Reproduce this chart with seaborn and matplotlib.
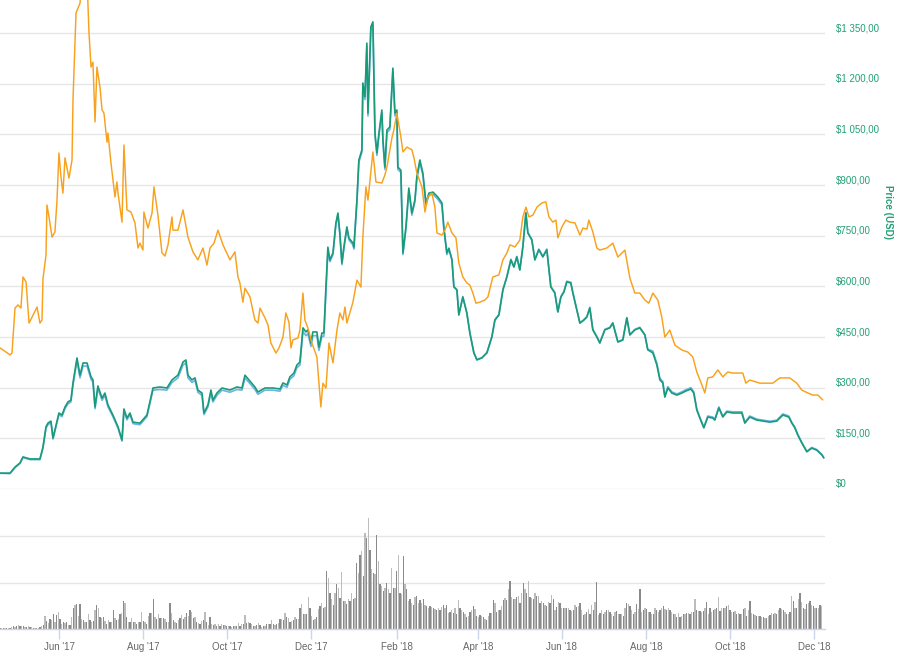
import numpy as np
import pandas as pd
import matplotlib
matplotlib.use("Agg")
import matplotlib.pyplot as plt
import matplotlib.dates as mdates
from matplotlib.ticker import FuncFormatter
import seaborn as sns

START = pd.Timestamp("2017-04-19")
END = START + pd.Timedelta(days=599.1)

# price in USD (green) and market cap in billions USD (blue), at day offsets from START
usd_days = [
    0.0, 7.3, 10.9, 14.5, 16.7, 21.8, 29.0, 31.2, 33.4, 34.8,
    37.0, 38.5, 40.7, 42.8, 45.0, 47.2, 49.4, 51.5, 53.0, 55.9,
    58.1, 60.3, 63.2, 66.1, 67.5, 69.0, 71.1, 74.1, 76.2, 78.4,
    82.0, 85.7, 88.6, 90.0, 92.2, 94.4, 96.6, 101.6, 106.7, 111.1,
    116.2, 121.2, 124.9, 129.2, 132.9, 135.0, 136.5, 139.4, 141.6, 143.7,
    146.7, 148.1, 151.0, 153.2, 154.6, 157.5, 161.2, 167.0, 172.1, 175.7,
    177.9, 180.8, 185.1, 187.3, 192.4, 198.2, 203.3, 205.5, 208.4, 210.5,
    213.4, 215.6, 217.8, 220.0, 222.2, 223.6, 225.8, 227.2, 230.1, 231.6,
    233.8, 235.2, 236.7, 238.1, 239.6, 241.8, 243.9, 245.4, 246.8, 248.3,
    249.7, 251.9, 253.4, 256.3, 257.0, 259.2, 260.6, 262.8, 263.5, 265.0,
    266.4, 267.2, 269.3, 270.8, 272.3, 273.7, 275.2, 277.3, 278.1, 279.5,
    281.0, 283.1, 285.3, 286.8, 288.2, 288.9, 291.1, 292.6, 294.8, 296.9,
    299.1, 301.3, 302.7, 304.9, 307.1, 309.3, 311.5, 314.4, 318.0, 320.9,
    322.3, 324.5, 326.0, 328.2, 329.6, 331.8, 333.2, 336.1, 339.0, 341.2,
    344.1, 346.3, 349.9, 353.6, 357.2, 359.4, 362.3, 365.2, 368.1, 371.0,
    373.2, 375.3, 377.5, 379.7, 381.9, 383.3, 386.2, 388.4, 391.3, 394.2,
    397.1, 400.0, 402.9, 405.1, 407.3, 409.5, 411.6, 414.5, 416.0, 418.9,
    421.1, 424.0, 426.2, 428.3, 430.5, 433.4, 435.6, 439.2, 442.9, 445.0,
    448.7, 452.3, 455.2, 457.4, 461.0, 464.6, 468.3, 470.4, 474.1, 477.0,
    479.2, 481.3, 482.8, 485.0, 487.9, 491.5, 495.1, 498.0, 501.7, 503.8,
    506.0, 508.2, 511.1, 514.0, 517.6, 519.1, 522.0, 524.9, 527.8, 532.2,
    538.7, 540.9, 544.5, 549.6, 559.0, 564.1, 568.5, 572.8, 575.0, 577.2,
    579.3, 582.3, 585.9, 589.5, 593.1, 596.8, 598.2,
]
usd_price = [
    47, 47, 65, 77, 95, 89, 89, 124, 184, 195,
    201, 151, 189, 225, 219, 243, 258, 263, 314, 388,
    337, 373, 373, 332, 323, 243, 305, 269, 284, 249,
    219, 184, 145, 237, 210, 225, 198, 195, 219, 299,
    302, 299, 323, 337, 376, 382, 337, 323, 329, 293,
    284, 225, 249, 293, 263, 284, 299, 293, 302, 299,
    337, 323, 302, 287, 299, 299, 296, 314, 308, 332,
    343, 367, 376, 477, 465, 471, 432, 465, 465, 420,
    462, 462, 598, 716, 678, 699, 787, 817, 758, 669,
    716, 776, 743, 728, 716, 856, 974, 1004, 1202, 1161,
    1320, 1113, 1368, 1383, 1054, 995, 1054, 1122, 1033, 953,
    1063, 1072, 1246, 1113, 1122, 953, 944, 699, 776, 891,
    817, 856, 924, 974, 935, 847, 876, 879, 864, 847,
    776, 699, 713, 678, 598, 589, 515, 568, 521, 462,
    403, 382, 388, 403, 450, 500, 515, 589, 628, 678,
    657, 687, 648, 716, 817, 758, 737, 678, 708, 687,
    708, 598, 580, 524, 568, 583, 613, 610, 580, 530,
    491, 500, 509, 536, 471, 450, 432, 471, 477, 491,
    435, 441, 506, 456, 471, 477, 456, 412, 403, 367,
    323, 314, 272, 299, 284, 278, 284, 290, 296, 284,
    234, 210, 181, 213, 210, 204, 240, 213, 228, 225,
    225, 195, 213, 204, 198, 201, 219, 213, 195, 181,
    160, 136, 110, 121, 115, 101, 92,
]
mcap_bn = [
    4.5, 4.4, 6.1, 7.3, 9.0, 8.4, 8.4, 11.7, 17.4, 18.4,
    19.0, 14.3, 17.9, 21.3, 20.7, 23.0, 24.4, 24.9, 29.7, 36.7,
    31.8, 35.2, 35.2, 31.4, 30.5, 23.0, 28.8, 25.4, 26.8, 23.5,
    20.7, 17.4, 13.7, 22.4, 19.8, 21.3, 18.7, 18.4, 20.7, 28.3,
    28.5, 28.3, 30.5, 31.8, 35.5, 36.1, 31.8, 30.5, 31.1, 27.7,
    26.8, 21.3, 23.5, 27.7, 24.9, 26.8, 28.3, 27.7, 28.5, 28.3,
    31.8, 30.5, 28.5, 27.1, 28.3, 28.3, 28.0, 29.7, 29.1, 31.4,
    32.4, 34.7, 35.5, 45.1, 43.9, 44.5, 40.8, 43.9, 43.9, 39.7,
    43.7, 43.7, 56.5, 67.7, 65.1, 67.1, 75.6, 78.4, 72.8, 64.2,
    68.7, 74.5, 71.3, 69.9, 68.7, 82.2, 93.5, 96.4, 115.4, 111.5,
    126.7, 106.8, 131.3, 132.8, 101.2, 95.5, 101.2, 107.7, 99.2, 91.5,
    102.0, 102.9, 119.6, 106.8, 107.7, 91.5, 90.6, 67.1, 74.5, 85.5,
    78.4, 82.2, 88.7, 93.5, 89.8, 81.3, 84.1, 84.4, 82.9, 81.3,
    74.5, 67.1, 68.4, 65.8, 58.0, 57.1, 50.0, 55.1, 50.5, 44.8,
    39.1, 37.1, 37.6, 39.1, 43.7, 48.5, 50.0, 57.1, 60.9, 65.8,
    63.7, 66.6, 62.9, 69.5, 79.2, 73.5, 71.5, 65.8, 68.7, 66.6,
    68.7, 58.0, 56.3, 50.8, 55.1, 56.6, 59.5, 59.2, 56.3, 51.4,
    47.6, 48.5, 49.4, 52.0, 45.7, 43.7, 41.9, 45.7, 46.3, 47.6,
    42.2, 42.8, 49.1, 44.2, 45.7, 46.3, 44.2, 40.0, 39.5, 36.0,
    31.7, 30.8, 26.7, 29.3, 27.8, 27.2, 27.8, 28.4, 29.0, 27.8,
    22.9, 20.6, 17.7, 20.9, 20.6, 20.0, 23.5, 20.9, 22.3, 22.1,
    22.1, 19.1, 20.9, 20.0, 19.4, 19.7, 21.5, 20.9, 19.1, 17.7,
    15.7, 13.3, 10.8, 11.9, 11.3, 9.9, 9.0,
]

# price in BTC (orange)
btc_days = [
    0.0, 7.3, 8.7, 10.9, 13.1, 15.2, 16.7, 18.9, 21.1, 24.0,
    26.9, 29.0, 30.5, 31.2, 33.4, 34.1, 35.6, 37.8, 39.9, 41.4,
    42.8, 44.3, 45.7, 47.2, 50.1, 52.3, 53.0, 55.2, 58.1, 60.3,
    63.2, 64.6, 66.1, 67.5, 69.0, 70.4, 72.6, 74.1, 75.5, 77.7,
    78.4, 80.6, 83.5, 84.9, 85.7, 88.6, 90.0, 92.2, 95.1, 98.0,
    100.2, 101.6, 103.8, 104.5, 107.4, 110.4, 111.8, 114.7, 117.6, 119.8,
    122.0, 124.9, 125.6, 129.2, 132.9, 136.5, 140.1, 143.7, 147.4, 150.3,
    152.5, 155.4, 158.3, 161.9, 167.0, 170.6, 172.8, 174.2, 176.4, 177.9,
    181.5, 185.1, 187.3, 188.8, 192.4, 194.6, 196.7, 200.4, 202.6, 205.5,
    207.6, 209.8, 211.3, 212.7, 216.3, 217.8, 220.0, 221.4, 223.6, 226.5,
    230.1, 233.0, 234.5, 236.7, 238.9, 241.8, 244.7, 246.8, 249.0, 250.5,
    251.9, 256.3, 259.2, 262.1, 263.5, 265.7, 267.2, 270.8, 273.0, 277.3,
    279.5, 281.0, 284.6, 286.0, 288.2, 291.1, 292.6, 295.5, 299.1, 300.6,
    302.7, 306.4, 308.6, 310.7, 313.6, 315.8, 317.3, 320.9, 323.1, 325.2,
    328.2, 331.1, 333.2, 336.1, 339.0, 341.2, 343.4, 345.6, 348.5, 352.1,
    354.3, 357.9, 362.3, 365.2, 368.1, 370.3, 373.9, 377.5, 379.7, 381.9,
    384.1, 387.0, 389.9, 393.5, 396.4, 398.6, 401.5, 403.7, 405.1, 408.0,
    410.9, 413.8, 417.5, 421.1, 423.3, 426.2, 427.6, 430.5, 433.4, 435.6,
    440.7, 445.0, 448.7, 453.8, 457.4, 461.0, 464.6, 468.3, 471.2, 474.1,
    477.7, 480.6, 482.8, 486.4, 490.1, 495.1, 499.5, 503.1, 506.0, 509.7,
    511.8, 514.0, 517.6, 521.3, 524.9, 528.5, 532.2, 539.4, 541.6, 544.5,
    551.8, 561.2, 566.3, 573.5, 578.6, 582.3, 586.6, 590.2, 593.9, 597.5,
]
btc_price = [
    0.0404, 0.0384, 0.0389, 0.0518, 0.0527, 0.0518, 0.0607, 0.0593, 0.0475, 0.0498,
    0.0521, 0.0475, 0.0484, 0.0601, 0.0670, 0.0813, 0.0779, 0.0721, 0.0736, 0.0827,
    0.0962, 0.0893, 0.0847, 0.0948, 0.0890, 0.0942, 0.1114, 0.1363, 0.1391, 0.1500,
    0.1460, 0.1308, 0.1208, 0.1222, 0.1051, 0.1208, 0.1151, 0.1085, 0.1076, 0.0993,
    0.1019, 0.0933, 0.0836, 0.0879, 0.0847, 0.0764, 0.0985, 0.0799, 0.0793, 0.0762,
    0.0690, 0.0704, 0.0684, 0.0793, 0.0747, 0.0790, 0.0865, 0.0784, 0.0676, 0.0667,
    0.0699, 0.0779, 0.0741, 0.0741, 0.0799, 0.0721, 0.0679, 0.0656, 0.0690, 0.0641,
    0.0690, 0.0704, 0.0741, 0.0699, 0.0656, 0.0679, 0.0607, 0.0590, 0.0535, 0.0575,
    0.0550, 0.0484, 0.0475, 0.0518, 0.0490, 0.0470, 0.0418, 0.0389, 0.0404, 0.0435,
    0.0504, 0.0478, 0.0404, 0.0427, 0.0432, 0.0455, 0.0561, 0.0484, 0.0461, 0.0418,
    0.0378, 0.0235, 0.0303, 0.0289, 0.0418, 0.0361, 0.0455, 0.0504, 0.0484, 0.0521,
    0.0475, 0.0535, 0.0598, 0.0578, 0.0721, 0.0865, 0.0827, 0.0965, 0.0879, 0.0876,
    0.0899, 0.0922, 0.1005, 0.1028, 0.1076, 0.1008, 0.0965, 0.0979, 0.0971, 0.0948,
    0.0905, 0.0865, 0.0793, 0.0836, 0.0847, 0.0807, 0.0733, 0.0727, 0.0741, 0.0764,
    0.0733, 0.0719, 0.0647, 0.0607, 0.0590, 0.0584, 0.0561, 0.0532, 0.0535, 0.0541,
    0.0550, 0.0607, 0.0613, 0.0656, 0.0676, 0.0699, 0.0693, 0.0713, 0.0779, 0.0807,
    0.0779, 0.0784, 0.0807, 0.0819, 0.0822, 0.0779, 0.0764, 0.0770, 0.0719, 0.0750,
    0.0770, 0.0764, 0.0762, 0.0727, 0.0747, 0.0744, 0.0770, 0.0736, 0.0690, 0.0684,
    0.0690, 0.0704, 0.0664, 0.0684, 0.0604, 0.0561, 0.0561, 0.0541, 0.0532, 0.0561,
    0.0541, 0.0492, 0.0435, 0.0455, 0.0412, 0.0398, 0.0392, 0.0378, 0.0335, 0.0298,
    0.0275, 0.0318, 0.0321, 0.0341, 0.0321, 0.0335, 0.0332, 0.0332, 0.0303, 0.0312,
    0.0303, 0.0303, 0.0318, 0.0318, 0.0303, 0.0283, 0.0275, 0.0269, 0.0269, 0.0255,
]

# 24h volume, millions USD, one reading every ~1.21 days from START
volume_musd = [
    75, 75, 50, 50, 50, 50, 50, 150, 200, 150, 250, 300, 200, 200, 250, 150, 150, 200, 125, 125,
    100, 100, 100, 100, 125, 200,
    300, 950, 600, 450, 750, 650, 1100, 500, 1050, 1300,
    750, 350, 500, 450, 500, 300, 300, 900, 1550, 1850,
    1900, 950, 1900, 750, 700, 550, 550, 1100, 700, 500,
    600, 1400, 1850, 1600, 900, 850, 900, 600, 400, 650,
    500, 500, 1400, 850, 700, 750, 1150, 1200, 2150, 2000,
    900, 500, 500, 850, 550, 500, 350, 550, 500, 1300,
    600, 500, 400, 950, 1200, 1200, 2250, 900, 750, 1150,
    850, 800, 800, 750, 500, 500, 2000, 1200, 650, 550,
    450, 650, 800, 1050, 750, 900, 1200, 1000, 1450, 1300,
    850, 900, 500, 450, 400, 600, 700, 1300, 550, 300,
    875, 400, 300, 350, 250, 350, 250, 400, 300, 300,
    200, 200, 200, 150, 200, 250, 250, 450, 250, 350,
    400, 1050, 450, 500, 450, 350, 250, 250, 300, 450,
    300, 150, 200, 250, 400, 350, 400, 700, 350, 300,
    400, 450, 750, 750, 700, 1200, 900, 800, 550, 600,
    650, 900, 750, 750, 1550, 1900, 1100, 1150, 1100, 2400,
    1550, 950, 700, 750, 900, 1500, 1750, 1950, 1600, 1650,
    4375, 3875, 2750, 2250, 1800, 2750, 3375, 3125, 2375, 4300,
    2100, 2100, 1900, 2250, 2125, 2750, 2300, 2375, 5000, 4250,
    5625, 5875, 4000, 7250, 6875, 8375, 6000, 4500, 4250, 4125,
    7125, 5125, 3375, 3250, 2875, 3125, 3500, 3000, 2750, 4625,
    3125, 3125, 4375, 5625, 2750, 2625, 5500, 3375, 3000, 2125,
    2250, 2000, 1800, 2450, 2500, 1950,
    2200, 1950, 2300, 1800, 1750, 1550, 1700, 1650, 1600, 1500,
    1400, 1600, 1400, 1650, 1850, 1550, 1800, 1200, 1300, 1450,
    1200, 1600, 1150, 2200, 1600, 1400, 1250, 1100, 900, 1000,
    1300, 1450, 1750, 1500, 1000, 900, 1050, 950, 900, 750,
    700, 950, 1200, 1200, 2200, 2000, 1300, 1400, 1450, 1750,
    2200, 2350, 2200, 3050, 3600, 2400, 2250, 2250, 2400, 2500,
    2000, 2750, 3500, 3000, 2700, 3650, 2400, 2375, 2250, 2700,
    2500, 2500, 2000, 2150, 2000, 1800, 1700, 2050, 2000, 2550,
    2250, 1400, 1650, 2050, 1950, 1600, 1600, 1550, 1600, 1550,
    1450, 1350, 1450, 1850, 1650, 1750, 1950, 1400, 1050, 1100,
    1250, 1500, 1150, 1800, 1400, 2050, 3550, 1050, 1200, 1400,
    1100, 1250, 1400, 1400, 1250, 1150, 1000, 1300, 1350, 1100,
    1150, 1150, 950, 1550, 2000, 1900,
    1750, 1450, 1100, 1250, 1900, 1500, 3050, 1300, 1450, 1550,
    1500, 1250, 1250, 1100, 1100, 1600, 1450, 1300, 1450, 1550,
    1700, 1500, 1400, 1600, 1400, 1250, 1150, 1150, 900, 1200,
    900, 1000, 1150, 1150, 1200, 1200, 1100, 1250, 1300, 2250,
    1400, 1350, 1350, 1250, 1350, 1550, 2050, 1150, 1600, 1300,
    1400, 1500, 1550, 2450, 1350, 1550, 1550, 1600, 1750, 1850,
    1450, 1250, 1300, 1350, 1150, 1200, 1150, 1150, 1500, 1550,
    1000, 1400, 2100, 1200, 1150, 1050, 1000, 950, 950, 900,
    900, 850, 850, 950, 1050, 1200, 1150, 1200, 1150, 1450,
    1550, 1500, 1400, 1250, 1150, 1150, 1250, 2500, 2100, 1600,
    1550, 2250, 2700, 2050, 1550, 1500, 1900, 1950, 2100, 1800,
    1700, 1550, 1550, 1600, 1800, 1750,
]
VOL_STEP_DAYS = 1.2105

price_ticks = list(range(0, 1351, 150))

sns.set_theme(style="white")
plt.rcParams["font.family"] = ["Liberation Sans", "DejaVu Sans"]

GREEN = "#1a9b78"
GREEN_TXT = "#22a077"
BLUE = "#6db3e8"
ORANGE = "#f8a11d"
GRID = "#e6e6e6"
AXIS = "#ccd6eb"


def usd_fmt(v, pos):
    if v == 0:
        return "$0"
    return "$" + f"{v:,.2f}".replace(",", " ").replace(".", ",")


usd_dates = START + pd.to_timedelta(usd_days, unit="D")
btc_dates = START + pd.to_timedelta(btc_days, unit="D")
vol_dates = START + pd.to_timedelta(np.arange(len(volume_musd)) * VOL_STEP_DAYS, unit="D")

fig = plt.figure(figsize=(9.07, 6.53), dpi=100)
ax = fig.add_axes([0, 164 / 653, 825 / 907, 489 / 653])
ax_vol = fig.add_axes([0, 24 / 653, 825 / 907, 139 / 653])

# twins so blue sits under green and orange on top
ax_mc = ax.twinx()
ax_usd = ax.twinx()
ax_btc = ax.twinx()

sns.lineplot(x=usd_dates, y=mcap_bn, ax=ax_mc, color=BLUE, linewidth=1.2)
sns.lineplot(x=usd_dates, y=usd_price, ax=ax_usd, color=GREEN, linewidth=1.2)
sns.lineplot(x=btc_dates, y=btc_price, ax=ax_btc, color=ORANGE, linewidth=1.05)

ax.set_xlim(START, END)
ax.set_ylim(0, 1447.7)
ax_usd.set_ylim(0, 1447.7)
ax_mc.set_ylim(0, 140)
ax_btc.set_ylim(0, 0.14)
for a in (ax_mc, ax_usd, ax_btc):
    a.axis("off")

ax.set_yticks(price_ticks)
ax.yaxis.set_major_formatter(FuncFormatter(usd_fmt))
ax.yaxis.tick_right()
ax.tick_params(axis="y", length=0, pad=8, labelsize=7, labelcolor=GREEN_TXT)
for t in ax.yaxis.get_major_ticks():
    t.label2.set_verticalalignment("bottom")
ax.set_xticks([])
ax.grid(axis="y", color=GRID, linewidth=1)
for s in ax.spines.values():
    s.set_visible(False)

fig.text(888 / 907, 1 - 212 / 653, "Price (USD)", rotation=270, color=GREEN_TXT,
         fontsize=7, fontweight="bold", ha="center", va="center")

# volume panel
shades = ["#8a8a8a" if i % 2 == 0 else "#bcbcbc" for i in range(len(volume_musd))]
ax_vol.bar(vol_dates.to_pydatetime(), volume_musd, width=0.95, color=shades, linewidth=0)
ax_vol.set_xlim(START, END)
ax_vol.set_ylim(0, 10500)
ax_vol.set_yticks([3500, 7000])
ax_vol.set_yticklabels([])
ax_vol.tick_params(axis="y", length=0)
ax_vol.grid(axis="y", color=GRID, linewidth=1)
ax_vol.grid(axis="x", visible=False)
for k, s in ax_vol.spines.items():
    s.set_visible(k == "bottom")
ax_vol.spines["bottom"].set_color(AXIS)
ax_vol.spines["bottom"].set_linewidth(1)
ax_vol.xaxis.set_major_locator(mdates.MonthLocator(bymonth=[2, 4, 6, 8, 10, 12]))
ax_vol.xaxis.set_major_formatter(mdates.DateFormatter("%b '%y"))
ax_vol.tick_params(axis="x", bottom=True, length=7, width=1, color=AXIS,
                   labelsize=7, labelcolor="#666666", pad=2, direction="out")
ax_vol.set_xlabel("")
ax_vol.set_ylabel("")

fig.savefig("out.png", dpi=100)
